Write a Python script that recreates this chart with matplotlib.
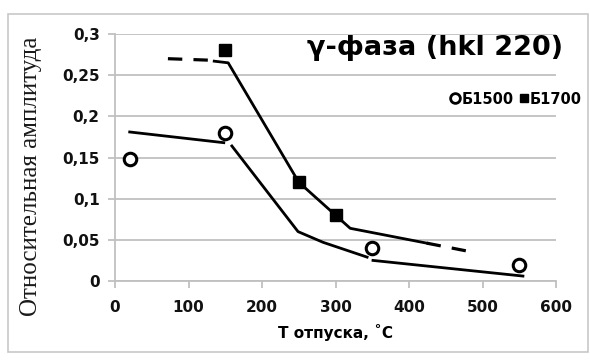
import matplotlib
matplotlib.use("Agg")
import matplotlib.pyplot as plt
from matplotlib.patches import Rectangle
from matplotlib.lines import Line2D

# measured points
b1500_t = [20, 150, 350, 550]
b1500_amp = [0.148, 0.18, 0.04, 0.02]
b1700_t = [150, 250, 300]
b1700_amp = [0.28, 0.12, 0.08]

# hand-drawn trend lines
b1500_fit1_t = [20, 148]
b1500_fit1_amp = [0.181, 0.168]
b1500_fit2_t = [159, 249, 283, 343]
b1500_fit2_amp = [0.164, 0.06, 0.047, 0.029]
b1500_fit3_t = [351, 555]
b1500_fit3_amp = [0.025, 0.006]

b1700_dash1_t = [72, 135]
b1700_dash1_amp = [0.270, 0.268]
b1700_fit_t = [135, 154, 250, 300, 320, 424]
b1700_fit_amp = [0.267, 0.265, 0.12, 0.08, 0.064, 0.046]
b1700_dash2_t = [424, 487]
b1700_dash2_amp = [0.046, 0.035]

xticks = [0, 100, 200, 300, 400, 500, 600]
yticks = [0, 0.05, 0.1, 0.15, 0.2, 0.25, 0.3]
ytick_labels = ["0", "0,05", "0,1", "0,15", "0,2", "0,25", "0,3"]

fig = plt.figure(figsize=(5.9, 3.6), dpi=100)
fig.patches.append(Rectangle((8/590, 1-352/360), 580/590, 338/360, transform=fig.transFigure,
                             fill=False, edgecolor="#c8c8c8", linewidth=1.2))

ax = fig.add_axes([115/590, 1-281/360, 441/590, 247/360])

for y in yticks:
    ax.axhline(y, color="#c0c0c0", linewidth=1.3, zorder=0)

ax.plot(b1500_fit1_t, b1500_fit1_amp, color="black", lw=2.0)
ax.plot(b1500_fit2_t, b1500_fit2_amp, color="black", lw=2.0)
ax.plot(b1500_fit3_t, b1500_fit3_amp, color="black", lw=2.0)
ax.plot(b1700_dash1_t, b1700_dash1_amp, color="black", lw=2.3, dashes=(4.5, 3.5))
ax.plot(b1700_fit_t, b1700_fit_amp, color="black", lw=2.0)
ax.plot(b1700_dash2_t, b1700_dash2_amp, color="black", lw=2.3, dashes=(4.5, 3.5))

ax.plot(b1500_t, b1500_amp, "o", ms=9, mfc="white", mec="black", mew=2.2, zorder=5)
ax.plot(b1700_t, b1700_amp, "s", ms=8, mfc="black", mec="black", zorder=5)

ax.set_xlim(0, 600)
ax.set_ylim(0, 0.3)
ax.set_xticks(xticks)
ax.set_yticks(yticks)
ax.set_yticklabels(ytick_labels)
for s in ["top", "right"]:
    ax.spines[s].set_visible(False)
ax.spines["left"].set_color("#c0c0c0")
ax.spines["bottom"].set_color("#c0c0c0")
ax.spines["left"].set_linewidth(1.3)
ax.spines["bottom"].set_linewidth(1.3)
ax.tick_params(axis="y", length=5, color="#c0c0c0", width=1.3, pad=6)
ax.tick_params(axis="x", length=5, color="#c0c0c0", width=1.3, pad=9)
for lab in ax.get_xticklabels() + ax.get_yticklabels():
    lab.set_fontweight("bold")
    lab.set_fontsize(11)
    lab.set_family("DejaVu Sans")
    lab.set_color("#111111")

ax.set_xlabel("T отпуска, ˚C", fontsize=11, fontweight="bold", family="DejaVu Sans", labelpad=6)
fig.text(31/590, 1-176/360, "Относительная амплитуда", rotation=90, fontsize=18,
         family="Liberation Serif", ha="center", va="center", color="#1a1a1a")

fig.text(435/590, 1-48/360, "γ-фаза (hkl 220)", fontsize=19.5, fontweight="bold",
         family="DejaVu Sans", ha="center", va="center")

handles = [Line2D([], [], ls="none", marker="o", ms=7, mfc="white", mec="black", mew=2),
           Line2D([], [], ls="none", marker="s", ms=6, mfc="black", mec="black")]
fig.legend(handles, ["Б1500", "Б1700"], loc="center left", bbox_to_anchor=(451/590, 1-99/360),
           ncol=2, frameon=False, handlelength=0.6, handletextpad=0.1, columnspacing=0.4,
           borderpad=0, borderaxespad=0,
           prop={"family": "DejaVu Sans", "weight": "bold", "size": 10.5})

fig.savefig("out.png", dpi=100)
